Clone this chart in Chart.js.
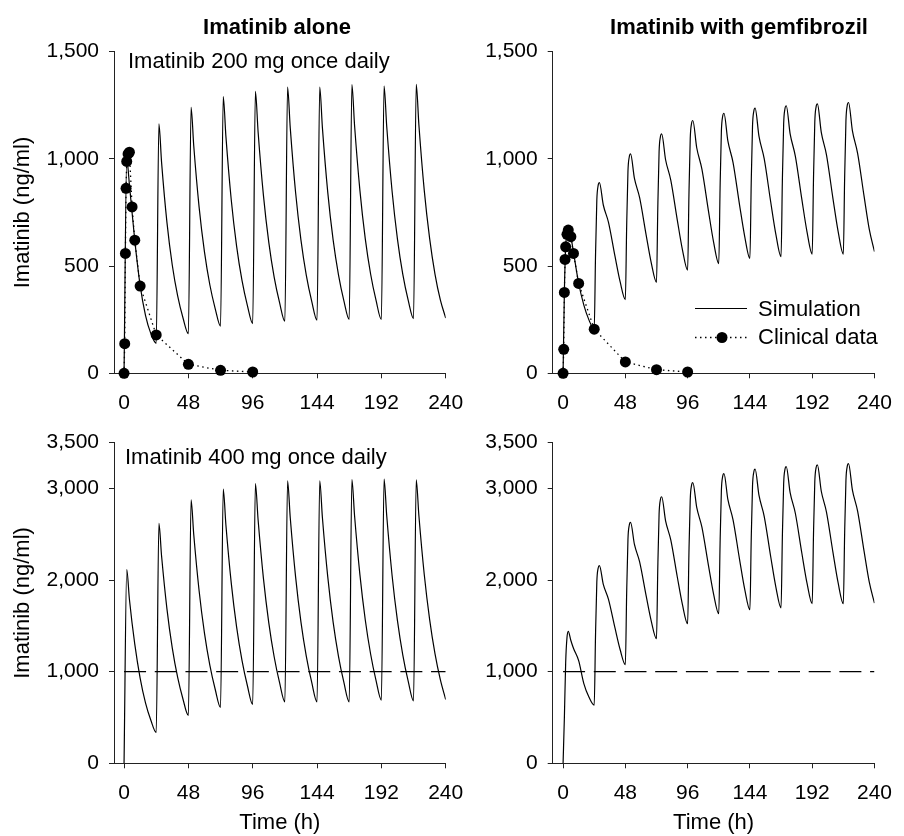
<!DOCTYPE html>
<html>
<head>
<meta charset="utf-8">
<script src="https://cdn.jsdelivr.net/npm/chart.js@4.4.0/dist/chart.umd.min.js"></script>
<style>
  html, body { margin: 0; padding: 0; background: #fff; }
  body { width: 904px; height: 836px; position: relative; overflow: hidden;
         font-family: Arial, "Liberation Sans", sans-serif; color: #000; }
  canvas { position: absolute; }
  .txt { position: absolute; font-size: 22px; line-height: 22px; white-space: nowrap; }
  .title { font-weight: bold; text-align: center; width: 300px; }
</style>
</head>
<body>
<canvas id="tl" width="480" height="420" style="left:0;top:0;width:480px;height:420px"></canvas>
<canvas id="tr" width="454" height="420" style="left:450px;top:0;width:454px;height:420px"></canvas>
<canvas id="bl" width="480" height="416" style="left:0;top:420px;width:480px;height:416px"></canvas>
<canvas id="br" width="454" height="416" style="left:450px;top:420px;width:454px;height:416px"></canvas>

<div class="txt title" style="left:127px;top:16px">Imatinib alone</div>
<div class="txt title" style="left:589px;top:16px">Imatinib with gemfibrozil</div>
<div class="txt" style="left:128px;top:50px">Imatinib 200 mg once daily</div>
<div class="txt" style="left:125px;top:446px">Imatinib 400 mg once daily</div>
<div class="txt" style="left:758px;top:298px">Simulation</div>
<div class="txt" style="left:758px;top:326px">Clinical data</div>

<script>
// tick labels
const xTicks = [0, 48, 96, 144, 192, 240];
const yTicks200 = [0, 500, 1000, 1500];
const yTicks400 = [0, 1000, 2000, 3000, 3500];

// clinical data (200 mg single dose)
const clinicalTime = [0, 0.5, 1, 1.5, 2, 3, 4, 6, 8, 12, 24, 48, 72, 96];
const clinicalAlone = [0, 138, 559, 863, 988, 1023, 1031, 776, 621, 407, 179, 42, 14, 6];
const clinicalGem = [0, 112, 377, 531, 590, 648, 668, 637, 559, 419, 206, 53, 17, 6];

// simulations, imatinib alone
const aloneTime = [
  0, 2, 4, 8, 12, 16, 20,
  24, 26, 28, 32, 36, 40, 44,
  48, 50, 52, 56, 60, 64, 68,
  72, 74, 76, 80, 84, 88, 92,
  96, 98, 100, 104, 108, 112, 116,
  120, 122, 124, 128, 132, 136, 140,
  144, 146, 148, 152, 156, 160, 164,
  168, 170, 172, 176, 180, 184, 188,
  192, 194, 196, 200, 204, 208, 212,
  216, 218, 220, 224, 228, 232, 236,
  240
];
const sim200Alone = [
  0, 1000, 880, 620, 410, 270, 185,
  140, 1163, 984, 704, 504, 361, 258,
  185, 1241, 1061, 775, 566, 413, 302,
  220, 1291, 1105, 808, 592, 433, 317,
  232, 1315, 1128, 830, 611, 449, 331,
  243, 1335, 1146, 843, 621, 457, 337,
  248, 1335, 1146, 844, 622, 459, 339,
  251, 1346, 1156, 852, 627, 462, 341,
  251, 1340, 1151, 849, 626, 461, 341,
  255, 1348, 1158, 853, 629, 463, 342,
  258
];
const sim400Alone = [
  0, 2114, 1790, 1300, 930, 660, 470,
  337, 2618, 2262, 1686, 1257, 937, 699,
  522, 2876, 2497, 1883, 1420, 1071, 808,
  609, 2992, 2601, 1966, 1486, 1123, 849,
  642, 3053, 2660, 2018, 1533, 1163, 882,
  670, 3083, 2683, 2034, 1540, 1168, 885,
  670, 3083, 2683, 2034, 1540, 1168, 885,
  670, 3097, 2701, 2056, 1564, 1190, 905,
  689, 3101, 2701, 2050, 1557, 1181, 896,
  681, 3094, 2701, 2060, 1571, 1197, 913,
  696
];

// simulations, imatinib with gemfibrozil
const gemTime = [
  0, 1, 2, 3, 4, 6, 8, 12, 16, 20,
  24, 25, 26, 27, 28, 31, 35, 40, 44,
  48, 49, 50, 51, 52, 55, 59, 64, 68,
  72, 73, 74, 75, 76, 79, 83, 88, 92,
  96, 97, 98, 99, 100, 103, 107, 112, 116,
  120, 121, 122, 123, 124, 127, 131, 136, 140,
  144, 145, 146, 147, 148, 151, 155, 160, 164,
  168, 169, 170, 171, 172, 175, 179, 184, 188,
  192, 193, 194, 195, 196, 199, 203, 208, 212,
  216, 217, 218, 219, 220, 223, 227, 232, 236,
  240
];
const sim200Gem = [
  0, 380, 590, 645, 660, 635, 565, 420, 318, 248,
  205, 547, 807, 875, 889, 785, 704, 546, 426,
  344, 684, 942, 1009, 1023, 909, 819, 646, 514,
  424, 771, 1034, 1103, 1117, 996, 901, 716, 576,
  481, 830, 1095, 1165, 1179, 1052, 952, 759, 612,
  512, 863, 1129, 1199, 1213, 1084, 983, 786, 638,
  536, 887, 1153, 1223, 1237, 1105, 1001, 800, 648,
  544, 896, 1164, 1234, 1248, 1117, 1013, 812, 660,
  556, 907, 1173, 1243, 1257, 1124, 1019, 815, 661,
  556, 910, 1178, 1249, 1263, 1131, 1026, 825, 671,
  567
];
const sim400Gem = [
  0, 500, 1100, 1370, 1440, 1340, 1255, 1120, 870, 720,
  634, 1396, 1975, 2128, 2158, 1953, 1790, 1477, 1239,
  1077, 1853, 2443, 2598, 2629, 2388, 2198, 1830, 1550,
  1360, 2135, 2723, 2878, 2909, 2646, 2438, 2036, 1731,
  1523, 2294, 2879, 3033, 3064, 2792, 2577, 2162, 1847,
  1632, 2397, 2978, 3131, 3162, 2880, 2657, 2226, 1899,
  1676, 2443, 3026, 3179, 3210, 2923, 2696, 2257, 1924,
  1697, 2468, 3053, 3207, 3238, 2954, 2729, 2295, 1966,
  1741, 2499, 3075, 3227, 3257, 2969, 2742, 2302, 1968,
  1741, 2506, 3087, 3240, 3271, 2982, 2753, 2312, 1976,
  1748
];

const targetTime = [0, 240];
const targetConc = [1000, 1000];

const FONT = 'Arial, "Liberation Sans", sans-serif';
const axisColor = '#222';

function pts(xs, ys) {
  return xs.map((x, i) => ({ x: x, y: ys[i] }));
}

function simSet(xs, ys) {
  return {
    data: pts(xs, ys),
    borderColor: '#000', borderWidth: 1.2,
    pointRadius: 0, cubicInterpolationMode: 'monotone', fill: false
  };
}

function clinicalSet(ys) {
  return {
    data: pts(clinicalTime, ys),
    borderColor: '#000', borderWidth: 1.3, borderDash: [1.5, 3.5],
    pointRadius: 5.5, pointBackgroundColor: '#000', pointBorderWidth: 0,
    tension: 0, clip: false
  };
}

function targetSet() {
  return {
    data: pts(targetTime, targetConc),
    borderColor: '#000', borderWidth: 1.2, borderDash: [22, 8.7],
    pointRadius: 0, tension: 0
  };
}

// legend symbols for the top right panel (text is in the page)
const legendMarks = {
  id: 'legendMarks',
  afterDraw(chart) {
    if (!chart.options.plugins.legendMarks.show) return;
    const ctx = chart.ctx;
    ctx.save();
    ctx.strokeStyle = '#000';
    ctx.lineWidth = 1.2;
    ctx.beginPath();
    ctx.moveTo(245, 308.5); ctx.lineTo(297, 308.5);
    ctx.stroke();
    ctx.setLineDash([1.5, 3.5]);
    ctx.lineWidth = 1.3;
    ctx.beginPath();
    ctx.moveTo(245, 337.5); ctx.lineTo(297, 337.5);
    ctx.stroke();
    ctx.setLineDash([]);
    ctx.fillStyle = '#000';
    ctx.beginPath();
    ctx.arc(272, 337.5, 5.5, 0, Math.PI * 2);
    ctx.fill();
    ctx.restore();
  }
};

function panel(id, o) {
  new Chart(document.getElementById(id), {
    type: 'line',
    data: { datasets: o.datasets },
    plugins: [legendMarks],
    options: {
      responsive: false,
      animation: false,
      events: [],
      layout: { padding: o.padding },
      plugins: {
        legend: { display: false },
        tooltip: { enabled: false },
        legendMarks: { show: !!o.legend }
      },
      scales: {
        x: {
          type: 'linear', min: o.xMin, max: 240,
          afterBuildTicks: s => { s.ticks = xTicks.map(v => ({ value: v })); },
          afterFit: s => { s.height = o.xHeight; },
          grid: { drawOnChartArea: false, drawTicks: true, tickLength: 5, color: axisColor },
          border: { display: true, color: axisColor, width: 1 },
          ticks: { color: '#000', font: { family: FONT, size: 21 }, padding: 12, maxRotation: 0, autoSkip: false },
          title: {
            display: !!o.xTitle, text: 'Time (h)', color: '#000',
            font: { family: FONT, size: 22 }, padding: { top: 0, bottom: 0 }
          }
        },
        y: {
          type: 'linear', min: 0, max: o.yMax,
          afterBuildTicks: s => { s.ticks = o.yTicks.map(v => ({ value: v })); },
          afterFit: s => { s.width = o.yWidth; },
          grid: { drawOnChartArea: false, drawTicks: true, tickLength: 5, color: axisColor },
          border: { display: true, color: axisColor, width: 1 },
          ticks: {
            color: '#000', font: { family: FONT, size: 21 }, padding: 10, autoSkip: false,
            callback: v => v.toLocaleString('en-US')
          },
          title: {
            display: !!o.yTitle, text: 'Imatinib (ng/ml)', color: '#000',
            font: { family: FONT, size: 22 }, padding: { top: 10, bottom: 0 }
          }
        }
      }
    }
  });
}

panel('tl', {
  datasets: [clinicalSet(clinicalAlone), simSet(aloneTime, sim200Alone)],
  padding: { left: 0, top: 51.7, right: 34.3, bottom: 0 },
  xMin: -7.5, xHeight: 46.7, yWidth: 114, yMax: 1500, yTicks: yTicks200, yTitle: true
});
panel('tr', {
  datasets: [clinicalSet(clinicalGem), simSet(gemTime, sim200Gem)],
  padding: { left: 0, top: 51.7, right: 19, bottom: 0 },
  xMin: -8, xHeight: 46.7, yWidth: 102.7, yMax: 1500, yTicks: yTicks200, legend: true
});
panel('bl', {
  datasets: [simSet(aloneTime, sim400Alone), targetSet()],
  padding: { left: 0, top: 21.7, right: 34.3, bottom: 0 },
  xMin: -7.5, xHeight: 72.7, yWidth: 114, yMax: 3500, yTicks: yTicks400, yTitle: true, xTitle: true
});
panel('br', {
  datasets: [simSet(gemTime, sim400Gem), targetSet()],
  padding: { left: 0, top: 21.7, right: 19, bottom: 0 },
  xMin: -8, xHeight: 72.7, yWidth: 102.7, yMax: 3500, yTicks: yTicks400, xTitle: true
});
</script>
</body>
</html>
